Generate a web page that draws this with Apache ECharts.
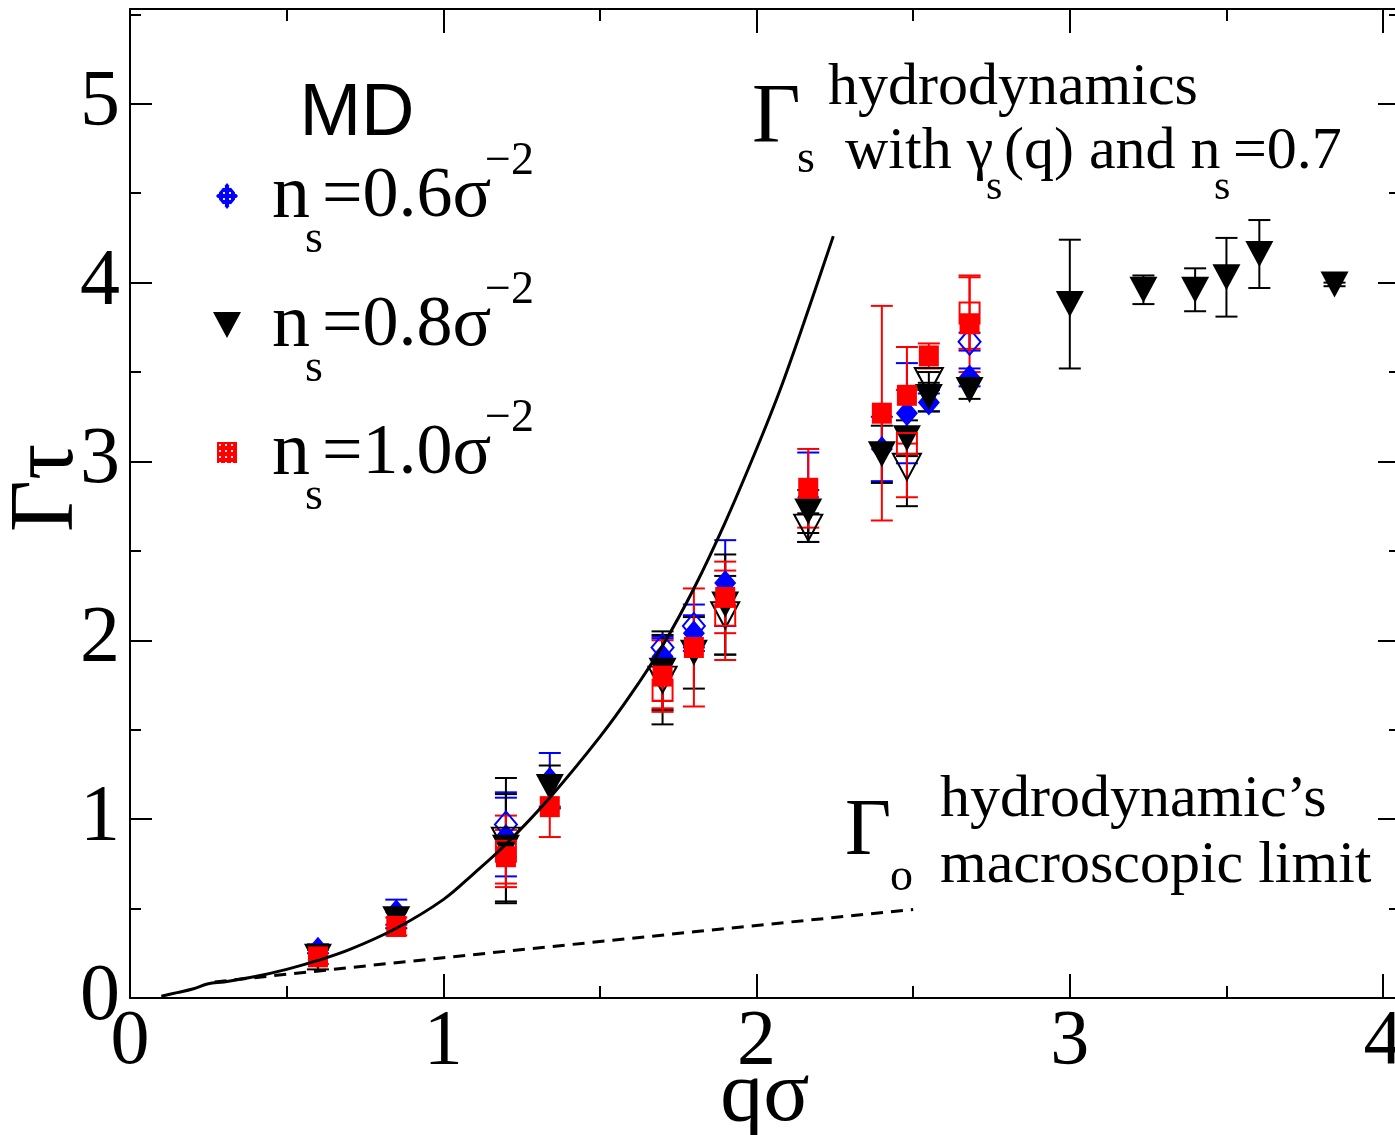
<!DOCTYPE html>
<html>
<head>
<meta charset="utf-8">
<script src="https://cdn.jsdelivr.net/npm/echarts@6/dist/echarts.min.js"></script>
<style>html,body{margin:0;padding:0;background:#fff}#chart{width:1395px;height:1135px}</style>
</head>
<body>
<div id="chart"></div>
<script>
// MD data, n_s = 0.6, 0.8, 1.0 sigma^-2 (filled) + second set (open)
var qBlue = [0.60, 0.85, 1.20, 1.34, 1.70, 1.80, 1.90, 2.165, 2.40, 2.48, 2.55, 2.68];
var gBlue = [0.27, 0.48, 0.90, 1.22, 1.91, 2.04, 2.32, 2.80, 3.07, 3.27, 3.33, 3.47];
var eBlue = [0.02, 0.07, 0.22, 0.15, 0.10, 0.10, 0.24, 0.25, 0.18, 0.28, 0.05, 0.05];

var qBlack = [0.60, 0.85, 1.20, 1.34, 1.70, 1.80, 1.90, 2.165, 2.40, 2.48, 2.55, 2.68, 3.00, 3.235, 3.40, 3.50, 3.605, 3.845];
var gBlack = [0.23, 0.44, 0.84, 1.18, 1.83, 1.93, 2.20, 2.72, 3.04, 3.13, 3.36, 3.40, 3.88, 3.96, 3.96, 4.03, 4.16, 3.99];
var eBlack = [0.07, 0.05, 0.30, 0.12, 0.22, 0.20, 0.28, 0.12, 0.16, 0.10, 0.08, 0.05, 0.36, 0.08, 0.12, 0.22, 0.19, 0.01];

var qRed = [0.60, 0.85, 1.20, 1.34, 1.70, 1.80, 1.90, 2.165, 2.40, 2.48, 2.55, 2.68];
var gRed = [0.23, 0.40, 0.79, 1.07, 1.80, 1.96, 2.24, 2.85, 3.27, 3.37, 3.59, 3.77];
var eRed = [0.04, 0.05, 0.15, 0.17, 0.20, 0.33, 0.20, 0.22, 0.60, 0.27, 0.07, 0.27];

var qBlueOpen = [1.20, 1.70, 1.80, 2.68];
var gBlueOpen = [0.97, 1.96, 2.08, 3.67];
var eBlueOpen = [0.18, 0.06, 0.12, 0.05];

var qBlackOpen = [1.20, 1.70, 1.90, 2.165, 2.48, 2.55];
var gBlackOpen = [0.88, 1.78, 2.14, 2.63, 2.97, 3.45];
var eBlackOpen = [0.35, 0.25, 0.22, 0.08, 0.22, 0.05];

var qRedOpen = [1.20, 1.70, 1.90, 2.48, 2.68];
var gRedOpen = [0.82, 1.72, 2.14, 3.10, 3.83];
var eRedOpen = [0.20, 0.10, 0.25, 0.30, 0.20];

// hydrodynamics with gamma_s(q), n_s=0.7
var curveQ = [0.10, 0.15, 0.20, 0.25, 0.30, 0.40, 0.50, 0.60, 0.70, 0.85, 1.00, 1.10, 1.20, 1.34, 1.50, 1.60, 1.70, 1.80, 1.90, 2.00, 2.075, 2.15, 2.245];
var curveG = [0.01, 0.03, 0.05, 0.08, 0.09, 0.12, 0.16, 0.21, 0.27, 0.39, 0.55, 0.70, 0.86, 1.12, 1.46, 1.70, 1.97, 2.29, 2.66, 3.07, 3.40, 3.77, 4.26];
// macroscopic limit
var limQ = [0.27, 1.00, 1.80, 2.50];
var limG = [0.09, 0.225, 0.37, 0.495];

function pairs(xs, ys) {
    return xs.map(function (x, i) { return [x, ys[i]]; });
}
function bars(xs, ys, es) {
    return xs.map(function (x, i) { return [x, ys[i] - es[i], ys[i] + es[i]]; });
}
function dots(bg) {
    var c = document.createElement('canvas');
    c.width = 6; c.height = 6;
    var g = c.getContext('2d');
    g.fillStyle = bg; g.fillRect(0, 0, 6, 6);
    g.fillStyle = 'rgba(255,235,235,0.95)';
    g.fillRect(2, 2, 2, 2);
    return { image: c, repeat: 'repeat' };
}
var bluePat = dots('#0000ff');
var redPat = dots('#ff0000');

function errRender(color) {
    return function (params, api) {
        var top = api.coord([api.value(0), api.value(2)]);
        var bot = api.coord([api.value(0), api.value(1)]);
        var w = 11;
        var st = { stroke: color, lineWidth: 2 };
        return {
            type: 'group',
            children: [
                { type: 'line', shape: { x1: top[0], y1: top[1], x2: bot[0], y2: bot[1] }, style: st },
                { type: 'line', shape: { x1: top[0] - w, y1: top[1], x2: top[0] + w, y2: top[1] }, style: st },
                { type: 'line', shape: { x1: bot[0] - w, y1: bot[1], x2: bot[0] + w, y2: bot[1] }, style: st }
            ]
        };
    };
}
function errSeries(xs, ys, es, color) {
    return {
        type: 'custom', xAxisIndex: 0, yAxisIndex: 0,
        renderItem: errRender(color),
        encode: { x: 0, y: [1, 2] },
        data: bars(xs, ys, es),
        silent: true
    };
}
function dotSeries(xs, ys, sym, size, rot, fill, border) {
    return {
        type: 'scatter', xAxisIndex: 0, yAxisIndex: 0,
        symbol: sym, symbolSize: size, symbolRotate: rot,
        itemStyle: { color: fill, borderColor: border, borderWidth: border ? 2 : 0, opacity: 1 },
        data: pairs(xs, ys),
        silent: true
    };
}

var serif = 'Liberation Serif';
function txt(x, y, s, size, align) {
    return {
        type: 'text', x: x, y: y, z: 100,
        style: { text: s, fontSize: size, fontFamily: serif, fill: '#000', align: align || 'left', verticalAlign: 'middle' }
    };
}
function legendRow(y, label) {
    return [
        txt(272, y, 'n', 76),
        txt(305, y + 43, 's', 46),
        txt(322, y, label, 72),
        txt(485, y - 35, '\u22122', 46)
    ];
}

var intFmt = function (v) { return Math.abs(v - Math.round(v)) < 1e-6 ? String(Math.round(v)) : ''; };

function xAx(grid, pos, step, len, labels, line) {
    return {
        type: 'value', gridIndex: grid, position: pos, min: 0, max: 4.054, interval: step,
        axisLine: { show: line, onZero: false, lineStyle: { color: '#000', width: 2 } },
        axisTick: { show: true, inside: true, length: len, lineStyle: { color: '#000', width: 2 } },
        axisLabel: { show: labels, formatter: intFmt, fontSize: 78, fontFamily: serif, color: '#000', margin: 6 },
        splitLine: { show: false }
    };
}
function yAx(grid, pos, step, len, labels, line) {
    return {
        type: 'value', gridIndex: grid, position: pos, min: 0, max: 5.53, interval: step,
        axisLine: { show: line, onZero: false, lineStyle: { color: '#000', width: 2 } },
        axisTick: { show: true, inside: true, length: len, lineStyle: { color: '#000', width: 2 } },
        axisLabel: { show: labels, formatter: intFmt, fontSize: 80, fontFamily: serif, color: '#000', margin: 10 },
        splitLine: { show: false }
    };
}

var myChart = echarts.init(document.getElementById('chart'));

var option = {
    animation: false,
    backgroundColor: '#fff',
    grid: [
        { left: 130, width: 1270, top: 9, height: 989, outerBoundsMode: 'none', containLabel: false },
        { left: 130, width: 1270, top: 9, height: 989, outerBoundsMode: 'none', containLabel: false }
    ],
    xAxis: [
        xAx(0, 'bottom', 1, 24, true, true),
        xAx(0, 'top', 1, 24, false, true),
        xAx(1, 'bottom', 0.5, 12, false, false),
        xAx(1, 'top', 0.5, 12, false, false)
    ],
    yAxis: [
        yAx(0, 'left', 1, 22, true, true),
        yAx(0, 'right', 1, 22, false, true),
        yAx(1, 'left', 0.5, 11, false, false),
        yAx(1, 'right', 0.5, 11, false, false)
    ],
    graphic: [
        { type: 'text', x: 357, y: 115, z: 100, style: { text: 'MD', fontSize: 74, fontFamily: 'Liberation Sans', fill: '#000', align: 'center', verticalAlign: 'middle' } },
        { type: 'polygon', x: 227, y: 196, z: 100, shape: { points: [[0, -13], [11, 0], [0, 13], [-11, 0]] }, style: { fill: bluePat } },
        { type: 'polygon', x: 227, y: 325, z: 100, shape: { points: [[-14, -13], [14, -13], [0, 13]] }, style: { fill: '#000' } },
        { type: 'rect', x: 217, y: 442, z: 100, shape: { x: 0, y: 0, width: 20, height: 21 }, style: { fill: redPat } },
        txt(752, 120, '\u0393', 84),
        txt(797, 160, 's', 46),
        txt(828, 88, 'hydrodynamics', 60),
        txt(845, 152, 'with \u03b3', 60),
        txt(986, 188, 's', 42),
        txt(1004, 152, '(q) and n', 60),
        txt(1214, 188, 's', 42),
        txt(1233, 152, '=0.7', 60),
        txt(845, 833, '\u0393', 80),
        txt(890, 878, 'o', 46),
        txt(940, 800, 'hydrodynamic\u2019s', 60),
        txt(940, 866, 'macroscopic limit', 60),
        txt(765, 1097, 'q\u03c3', 86, 'center'),
        { type: 'text', x: 48, y: 488, rotation: Math.PI / 2, z: 100, style: { text: '\u0393\u03c4', fontSize: 90, fontFamily: serif, fill: '#000', align: 'center', verticalAlign: 'middle' } }
    ].concat(legendRow(197, '=0.6\u03c3'), legendRow(326, '=0.8\u03c3'), legendRow(454, '=1.0\u03c3')),
    series: [
        dotSeries(qBlueOpen, gBlueOpen, 'diamond', [22, 26], 0, 'rgba(0,0,0,0)', '#0000ff'),
        errSeries(qBlueOpen, gBlueOpen, eBlueOpen, '#0000ff'),
        errSeries(qBlue, gBlue, eBlue, '#0000ff'),
        dotSeries(qBlue, gBlue, 'diamond', [22, 26], 0, bluePat, null),
        dotSeries(qBlackOpen, gBlackOpen, 'triangle', [28, 26], 180, 'rgba(0,0,0,0)', '#000'),
        errSeries(qBlackOpen, gBlackOpen, eBlackOpen, '#000'),
        errSeries(qBlack, gBlack, eBlack, '#000'),
        dotSeries(qBlack, gBlack, 'triangle', [28, 26], 180, '#000', null),
        dotSeries(qRedOpen, gRedOpen, 'rect', [20, 21], 0, 'rgba(0,0,0,0)', '#ff0000'),
        errSeries(qRedOpen, gRedOpen, eRedOpen, '#ff0000'),
        errSeries(qRed, gRed, eRed, '#ff0000'),
        dotSeries(qRed, gRed, 'rect', [20, 21], 0, redPat, null),
        {
            type: 'line', xAxisIndex: 0, yAxisIndex: 0, data: pairs(curveQ, curveG),
            showSymbol: false, smooth: 0.35, silent: true,
            lineStyle: { color: '#000', width: 3 }
        },
        {
            type: 'line', xAxisIndex: 0, yAxisIndex: 0, data: pairs(limQ, limG),
            showSymbol: false, silent: true,
            lineStyle: { color: '#000', width: 3, type: [12, 8] }
        }
    ]
};

myChart.setOption(option);
</script>
</body>
</html>
